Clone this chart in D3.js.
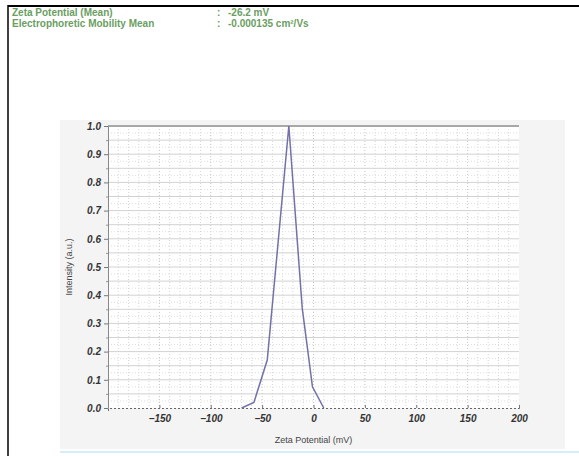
<!DOCTYPE html>
<html><head><meta charset="utf-8">
<script src="https://cdn.jsdelivr.net/npm/d3@7"></script>
<style>body{margin:0;background:#fff;} svg{display:block;}</style>
</head><body>
<svg id="c" width="579" height="456"></svg>
<script>
const headerLabels = ["Zeta Potential (Mean)", "Electrophoretic Mobility Mean"];
const headerValues = ["-26.2 mV", "-0.000135 cm\u00b2/Vs"];
const zeta = [-70, -58, -45, -24, -11, -1, 10];
const intensity = [0, 0.02, 0.17, 1.0, 0.355, 0.075, 0];
const xTicks = [-150, -100, -50, 0, 50, 100, 150, 200];
const yTicks = [0, 0.1, 0.2, 0.3, 0.4, 0.5, 0.6, 0.7, 0.8, 0.9, 1.0];

const svg = d3.select("#c");
const FF = "Liberation Sans, Arial, sans-serif";
// border
svg.append("line").attr("x1",8).attr("x2",579).attr("y1",6).attr("y2",6).attr("stroke","#000").attr("stroke-width",2);
svg.append("line").attr("x1",8).attr("x2",8).attr("y1",5).attr("y2",456).attr("stroke","#000").attr("stroke-width",1.5);
// header
const hg = svg.append("g").attr("font-family",FF).attr("font-size",10).attr("fill","#6a9e62").attr("font-weight","bold");
headerLabels.forEach((t,i)=>{
  hg.append("text").attr("x",12).attr("y",16+i*11).text(t);
  hg.append("text").attr("x",217).attr("y",16+i*11).text(":");
  hg.append("text").attr("x",228).attr("y",16+i*11).text(headerValues[i]);
});
// panel
svg.append("rect").attr("x",60).attr("y",120).attr("width",505).attr("height",329).attr("fill","#f4f4f4");
svg.append("line").attr("x1",60).attr("x2",579).attr("y1",452).attr("y2",452).attr("stroke","#d6eef8").attr("stroke-width",2);

const x = d3.scaleLinear().domain([-200,200]).range([108,519]);
const y = d3.scaleLinear().domain([0,1]).range([408,126]);
svg.append("rect").attr("x",x(-200)).attr("y",y(1)).attr("width",x(200)-x(-200)).attr("height",y(0)-y(1)).attr("fill","#fff");

const grid = svg.append("g");
d3.range(-190,200,10).forEach(v=>{
  grid.append("line").attr("x1",x(v)).attr("x2",x(v)).attr("y1",y(1)).attr("y2",y(0))
    .attr("stroke", v%50===0 ? "#c4c4c4" : "#d6d6d6").attr("stroke-dasharray","1,2");
});
d3.range(0.025,1,0.025).forEach(v=>{
  const major = Math.abs(v*20 - Math.round(v*20))<1e-6;
  grid.append("line").attr("x1",x(-200)).attr("x2",x(200)).attr("y1",y(v)).attr("y2",y(v))
    .attr("stroke", major ? "#d2d2d2" : "#dddddd").attr("stroke-dasharray", major ? null : "1,2");
});
svg.append("line").attr("x1",x(-200)).attr("x2",x(200)).attr("y1",y(1)).attr("y2",y(1)).attr("stroke","#a8a8a8").attr("stroke-width",2);

// y axis
const ya = svg.append("g").attr("transform",`translate(${x(-200)},0)`)
  .call(d3.axisLeft(y).tickValues(yTicks).tickFormat(d3.format(".1f")).tickSize(4));
ya.select(".domain").attr("stroke","#888");
ya.selectAll(".tick line").attr("stroke","#777");
ya.selectAll("text").attr("font-family",FF).attr("font-size",10).attr("font-weight","bold").attr("font-style","italic").attr("fill","#333");
svg.append("g").attr("transform",`translate(${x(-200)},0)`)
  .call(d3.axisLeft(y).tickValues(d3.range(0.05,1,0.1)).tickFormat("").tickSize(2))
  .call(g=>{g.select(".domain").remove(); g.selectAll("line").attr("stroke","#999");});

// x axis
const xa = svg.append("g").attr("transform",`translate(0,${y(0)})`)
  .call(d3.axisBottom(x).tickValues(xTicks).tickSize(3).tickPadding(4));
xa.select(".domain").attr("stroke","#666").attr("stroke-dasharray","2,2");
xa.selectAll(".tick line").attr("stroke","#777").attr("transform","translate(0,-3)");
xa.selectAll("text").attr("font-family",FF).attr("font-size",10).attr("font-weight","bold").attr("font-style","italic").attr("fill","#333");

// line
svg.append("path").datum(zeta.map((z,i)=>[z,intensity[i]]))
  .attr("d", d3.line().x(d=>x(d[0])).y(d=>y(d[1])))
  .attr("fill","none").attr("stroke","#7272a8").attr("stroke-width",1.5);

// axis labels
svg.append("text").attr("transform",`translate(72,${(y(0)+y(1))/2}) rotate(-90)`).attr("text-anchor","middle")
  .attr("font-family",FF).attr("font-size",9).attr("fill","#444").text("Intensity (a.u.)");
svg.append("text").attr("x",x(0)).attr("y",443).attr("text-anchor","middle")
  .attr("font-family",FF).attr("font-size",9).attr("fill","#444").text("Zeta Potential (mV)");
</script>
</body></html>
